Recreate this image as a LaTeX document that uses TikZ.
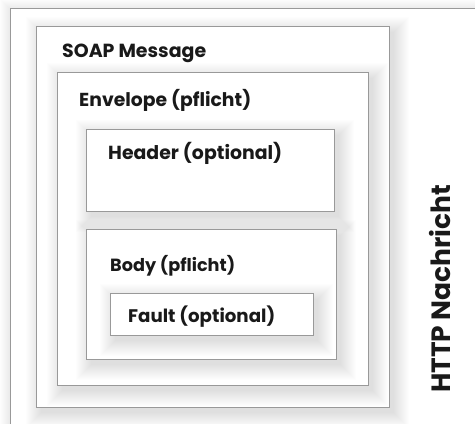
\documentclass[tikz,border=0pt]{standalone}
\usepackage{fontspec}
\setmainfont{Poppins}
\newcommand\softbox[4]{%
  \foreach \k in {0,...,15}{%
    \fill[black, opacity=0.008] ({#1+5-\k},{#2+6-\k}) rectangle ({#3+5+\k},{#4+6+\k});
  }%
  \path[box] (#1,#2) rectangle (#3,#4);
}
\begin{document}
\begin{tikzpicture}[x=1pt,y=-1pt,
  box/.style={draw=black!40, line width=0.9pt, fill=white},
  lbl/.style={anchor=base west, inner sep=0pt, text=black!90, font=\bfseries}]
\useasboundingbox (0,0) rectangle (475,424);
\fill[white] (0,0) rectangle (475,424);
\clip (0,0) rectangle (475,424);
\softbox{10}{8}{520}{470}
\softbox{36}{26}{389}{407}
\softbox{57}{72}{368}{385}
\softbox{86}{129}{334}{211}
\softbox{86}{229}{336}{359}
\softbox{110}{293}{313}{335}
\node[lbl] (soap) at (62,57) {\resizebox{144pt}{!}{SOAP Message}};
\node[lbl] (env) at (79,106) {\resizebox{172pt}{!}{Envelope (pflicht)}};
\node[lbl] (hdr) at (108,159) {\resizebox{174pt}{!}{Header (optional)}};
\node[lbl] (body) at (110,271) {\resizebox{125pt}{!}{Body (pflicht)}};
\node[lbl] (fault) at (128,322) {\resizebox{147pt}{!}{Fault (optional)}};
\node[lbl, rotate=90] (http) at (450,393) {\resizebox{208pt}{!}{HTTP Nachricht}};
\end{tikzpicture}
\end{document}
